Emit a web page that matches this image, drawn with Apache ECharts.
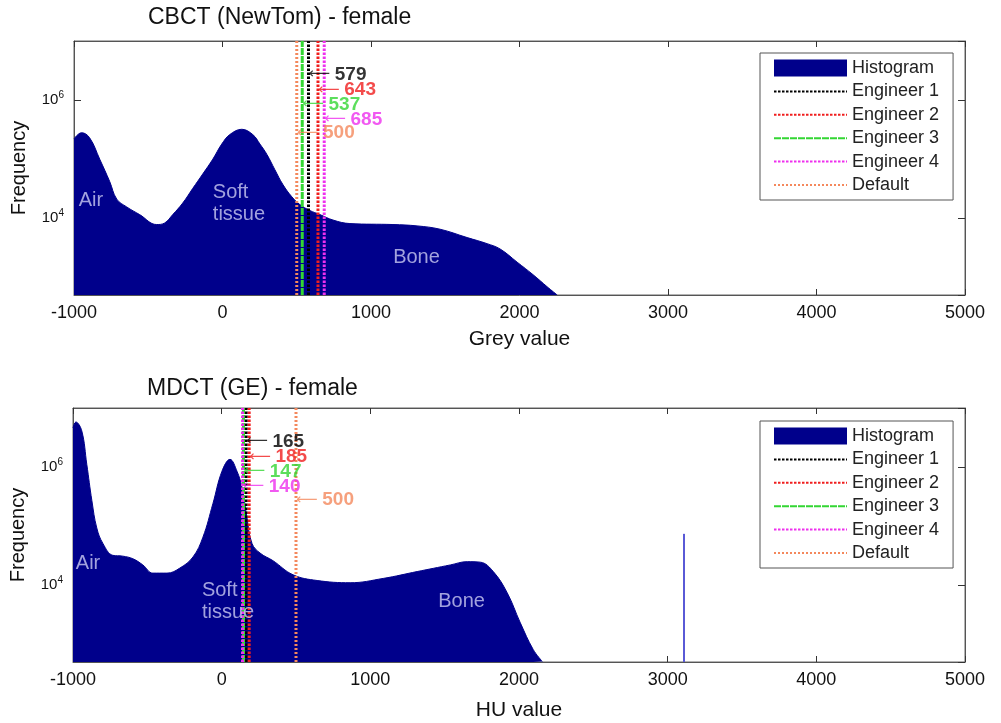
<!DOCTYPE html>
<html>
<head>
<meta charset="utf-8">
<script src="https://cdn.jsdelivr.net/npm/echarts@6/dist/echarts.min.js"></script>
<style>
  html, body { margin: 0; padding: 0; background: #fff; }
  #main { width: 1001px; height: 723px; }
</style>
</head>
<body>
<div id="main"></div>
<script>
// CBCT (NewTom) histogram: grey value -> frequency
var cbctGrey = [-1000, -949, -895, -827, -760, -712, -645, -558, -443, -389, -335, -268, -200, -133, -65, -5,
  49, 130, 204, 252, 299, 353, 407, 467, 521, 588, 656, 744, 858, 1148, 1310, 1465, 1647, 1782, 1870, 1984,
  2092, 2186, 2254];
var cbctFreq = [2.2e5, 2.8e5, 2.3e5, 1.0e5, 4.2e4, 2.1e4, 1.55e4, 1.15e4, 7.8e3, 8.3e3, 1.15e4, 1.8e4, 3.2e4,
  5.6e4, 1.0e5, 1.8e5, 2.6e5, 3.2e5, 2.6e5, 1.8e5, 1.2e5, 6.6e4, 3.7e4, 2.3e4, 1.7e4, 1.35e4, 1.15e4, 9.3e3,
  8.1e3, 7.8e3, 7.4e3, 6.5e3, 4.7e3, 3.7e3, 3.0e3, 1.8e3, 1.1e3, 690, 500];

// MDCT (GE) histogram: HU value -> frequency
var mdctHU = [-1000, -981, -941, -907, -873, -840, -799, -732, -665, -597, -530, -463, -368, -281, -193, -126,
  -59, 2, 56, 103, 137, 170, 204, 258, 345, 480, 642, 864, 1086, 1315, 1538, 1652, 1740, 1827, 1921, 2009,
  2096, 2157];
var mdctFreq = [4.6e6, 5.8e6, 4.1e6, 1.1e6, 2.7e5, 9.3e4, 5.1e4, 3.2e4, 3.1e4, 2.8e4, 2.2e4, 1.6e4, 1.6e4,
  1.95e4, 3.0e4, 6.5e4, 2.4e5, 8.5e5, 1.35e6, 8.5e5, 4.5e5, 1.4e5, 5.1e4, 3.5e4, 2.6e4, 1.5e4, 1.2e4, 1.1e4,
  1.3e4, 1.7e4, 2.2e4, 2.5e4, 2.45e4, 1.7e4, 7.4e3, 2.3e3, 810, 510];
var mdctSpike = [3110, 7.4e4];

var readers = ['Engineer 1', 'Engineer 2', 'Engineer 3', 'Engineer 4', 'Default'];
var readerColors = ['#000000', '#f01e1e', '#33d633', '#ee30ee', '#f4885c'];
var readerDash = [[2.5, 1.5], [2.5, 1.5], [7, 1], [2.5, 1.5], [2, 2]];
var cbctThresh = [579, 643, 537, 685, 500];
var mdctThresh = [165, 185, 147, 140, 500];
var noteLevels = [2.7e6, 1.5e6, 8.4e5, 4.7e5, 2.8e5];

var cbctRegions = [[-968, 2.0e4, 'Air'], [-65, 1.8e4, 'Soft\ntissue'], [1149, 2.2e3, 'Bone']];
var mdctRegions = [[-981, 2.3e4, 'Air'], [-133, 5.3e3, 'Soft\ntissue'], [1457, 5.3e3, 'Bone']];

var yMin = 500, yMax = 1e7;
var navy = '#00008b';
var font = 'Liberation Sans, Arial, sans-serif';

function xAxes(gi, name, gap) {
  return [{
    type: 'value', gridIndex: gi, min: -1000, max: 5000, interval: 1000,
    name: name, nameLocation: 'middle', nameGap: gap,
    nameTextStyle: { fontSize: 21, color: '#111', fontFamily: font },
    axisLine: { onZero: false, lineStyle: { color: '#555' } },
    axisTick: { inside: true, length: 6, lineStyle: { color: '#333' } },
    axisLabel: { fontSize: 18, color: '#111', margin: 9, fontFamily: font,
      formatter: function (v) { return String(v); } },
    splitLine: { show: false }
  }, {
    type: 'value', gridIndex: gi, position: 'top', min: -1000, max: 5000, interval: 1000,
    axisLine: { onZero: false, lineStyle: { color: '#555' } },
    axisTick: { inside: true, length: 6, lineStyle: { color: '#333' } },
    axisLabel: { show: false }, splitLine: { show: false }
  }];
}

function yAxes(gi) {
  return [{
    type: 'log', logBase: 100, gridIndex: gi, min: yMin, max: yMax,
    name: 'Frequency', nameLocation: 'middle', nameGap: 45,
    nameTextStyle: { fontSize: 20, color: '#111', fontFamily: font },
    axisLine: { show: true, onZero: false, lineStyle: { color: '#555' } },
    axisTick: { inside: true, length: 7, lineStyle: { color: '#333' } },
    axisLabel: {
      margin: 10, showMinLabel: false, showMaxLabel: false,
      formatter: function (v) {
        return '{b|10}{s|' + Math.round(Math.log10(v)) + '}';
      },
      rich: {
        b: { fontSize: 15, color: '#111', fontFamily: font },
        s: { fontSize: 10, color: '#111', fontFamily: font, padding: [0, 0, 10, 0] }
      }
    },
    splitLine: { show: false }
  }, {
    type: 'log', logBase: 100, gridIndex: gi, position: 'right', min: yMin, max: yMax,
    axisLine: { show: true, onZero: false, lineStyle: { color: '#555' } },
    axisTick: { inside: true, length: 7, lineStyle: { color: '#333' } },
    axisLabel: { show: false }, splitLine: { show: false }
  }];
}

function panelSeries(gi, xs, ys, thresh, regions) {
  var ax = gi * 2;
  var list = [{
    name: 'Histogram', type: 'line', xAxisIndex: ax, yAxisIndex: ax,
    data: xs.map(function (x, i) { return [x, ys[i]]; }),
    symbol: 'none', smooth: 0.4,
    lineStyle: { color: navy, width: 1 }, itemStyle: { color: navy },
    areaStyle: { color: navy, opacity: 1 }
  }];
  readers.forEach(function (r, i) {
    list.push({
      name: r, type: 'line', xAxisIndex: ax, yAxisIndex: ax,
      data: [[thresh[i], yMin], [thresh[i], yMax]],
      symbol: 'none',
      lineStyle: { color: readerColors[i], width: 3, type: readerDash[i] },
      itemStyle: { color: readerColors[i] }
    });
  });
  list.push({
    type: 'scatter', xAxisIndex: ax, yAxisIndex: ax, symbolSize: 0, silent: true, z: 5,
    data: thresh.map(function (t, i) {
      var c = readerColors[i];
      return {
        value: [t, noteLevels[i]],
        label: {
          color: c,
          rich: {
            a: { fontSize: 15, fontFamily: 'DejaVu Sans', color: c },
            n: { fontSize: 19, fontWeight: 'bold', fontFamily: font, color: c }
          }
        }
      };
    }),
    label: {
      show: true, position: 'right', distance: 0,
      formatter: function (p) { return '{a|\u27f5 }{n|' + p.value[0] + '}'; }
    }
  });
  list.push({
    type: 'scatter', xAxisIndex: ax, yAxisIndex: ax, symbolSize: 0, silent: true, z: 5,
    data: regions.map(function (r) { return { value: [r[0], r[1]], name: r[2] }; }),
    label: {
      show: true, position: 'right', distance: 0, align: 'left',
      formatter: '{b}',
      color: '#cbcbf2', fontSize: 20, lineHeight: 22, fontFamily: font
    }
  });
  return list;
}

function legendAt(top) {
  return {
    orient: 'vertical', left: 760, top: top,
    itemWidth: 73, itemHeight: 17, itemGap: 5.4,
    padding: [6, 14, 6, 13],
    borderColor: '#555', borderWidth: 1, backgroundColor: '#fff',
    itemStyle: { opacity: 0 },
    textStyle: { fontSize: 18, color: '#222', fontFamily: font },
    data: [{ name: 'Histogram', icon: 'rect', itemStyle: { opacity: 1 } }].concat(readers)
  };
}

var series = panelSeries(0, cbctGrey, cbctFreq, cbctThresh, cbctRegions)
  .concat(panelSeries(1, mdctHU, mdctFreq, mdctThresh, mdctRegions));
series.push({
  type: 'line', xAxisIndex: 2, yAxisIndex: 2, symbol: 'none', silent: true,
  data: [[mdctSpike[0], yMin], [mdctSpike[0], mdctSpike[1]]],
  lineStyle: { color: '#5a5ad6', width: 2 }
});

var chart = echarts.init(document.getElementById('main'));
chart.setOption({
  animation: false,
  textStyle: { fontFamily: font },
  title: [
    { text: 'CBCT (NewTom) - female', left: 148, top: 6, padding: 0,
      textStyle: { fontSize: 23, fontWeight: 'normal', color: '#111', fontFamily: font } },
    { text: 'MDCT (GE) - female', left: 147, top: 377, padding: 0,
      textStyle: { fontSize: 23, fontWeight: 'normal', color: '#111', fontFamily: font } }
  ],
  legend: [legendAt(53), legendAt(421)],
  grid: [
    { left: 74, top: 41, width: 891, height: 254, show: true, borderColor: '#666', borderWidth: 1 },
    { left: 73, top: 408, width: 892, height: 254, show: true, borderColor: '#666', borderWidth: 1 }
  ],
  xAxis: xAxes(0, 'Grey value', 34).concat(xAxes(1, 'HU value', 38)),
  yAxis: yAxes(0).concat(yAxes(1)),
  series: series
});
</script>
</body>
</html>
